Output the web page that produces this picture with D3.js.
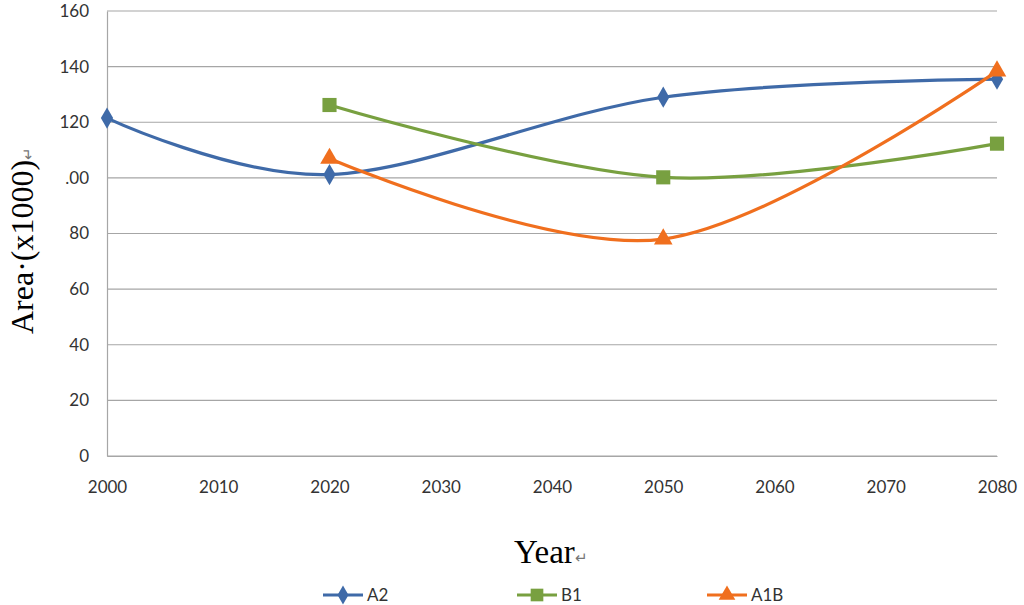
<!DOCTYPE html>
<html>
<head>
<meta charset="utf-8">
<script src="https://cdn.jsdelivr.net/npm/d3@7"></script>
<style>
  body { margin: 0; background: #fff; }
</style>
</head>
<body>
<div id="chart"></div>
<script>
// data
var years = [2000, 2020, 2050, 2080];
var a2 = [121.5, 101.2, 129, 135.5];
var b1 = [null, 126.2, 100.2, 112.3];
var a1b = [null, 107, 78, 138.4];
var seriesNames = ["A2", "B1", "A1B"];
var xTicks = [2000, 2010, 2020, 2030, 2040, 2050, 2060, 2070, 2080];
var yTicks = [0, 20, 40, 60, 80, 100, 120, 140, 160];
var yTickLabels = ["0", "20", "40", "60", "80", ".00", "120", "140", "160"];

var W = 1024, H = 605;
var margin = {top: 11, right: 27, bottom: 149, left: 107},
    width = W - margin.left - margin.right,
    height = H - margin.top - margin.bottom;

var svg = d3.select("#chart")
    .append("svg")
    .attr("width", W)
    .attr("height", H);

var g = svg.append("g")
    .attr("transform", "translate(" + margin.left + "," + margin.top + ")");

var x = d3.scaleLinear().domain([2000, 2080]).range([0, width]);
var y = d3.scaleLinear().domain([0, 160]).range([height, 0]);

// horizontal gridlines
g.append("g")
    .selectAll("line")
    .data(yTicks)
    .enter()
    .append("line")
    .attr("x1", 0)
    .attr("x2", width)
    .attr("y1", function (d) { return y(d); })
    .attr("y2", function (d) { return y(d); })
    .attr("stroke", "#a6a6a6")
    .attr("stroke-width", 1.2);

// left axis
var yAxis = g.append("g")
    .call(d3.axisLeft(y)
        .tickValues(yTicks)
        .tickSize(0)
        .tickPadding(18)
        .tickFormat(function (d, i) { return yTickLabels[i]; }));
yAxis.select(".domain").attr("stroke", "#a6a6a6").attr("stroke-width", 1.2);

// bottom axis
var xAxis = g.append("g")
    .attr("transform", "translate(0," + height + ")")
    .call(d3.axisBottom(x)
        .tickValues(xTicks)
        .tickSize(0)
        .tickPadding(25)
        .tickFormat(d3.format("d")));
xAxis.select(".domain").attr("stroke", "#a6a6a6").attr("stroke-width", 1.2);

svg.selectAll(".tick text")
    .style("font-family", "Lato, 'Open Sans', sans-serif")
    .style("font-size", "17px")
    .attr("fill", "#333");

// series
var colors = ["#3f6aa8", "#78a040", "#f06f1e"];
var symbols = [d3.symbolDiamond, d3.symbolSquare, d3.symbolTriangle];
var symSizes = [130, 200, 150];
var allSeries = [a2, b1, a1b];

var line = d3.line()
    .defined(function (d) { return d[1] != null; })
    .x(function (d) { return x(d[0]); })
    .y(function (d) { return y(d[1]); })
    .curve(d3.curveCardinal.tension(0));

allSeries.forEach(function (vals, i) {
    var pts = years.map(function (yr, j) { return [yr, vals[j]]; })
        .filter(function (d) { return d[1] != null; });

    g.append("path")
        .datum(pts)
        .attr("fill", "none")
        .attr("stroke", colors[i])
        .attr("stroke-width", 3.2)
        .attr("d", line);

    g.selectAll(".m" + i)
        .data(pts)
        .enter()
        .append("path")
        .attr("class", "m" + i)
        .attr("transform", function (d) {
            return "translate(" + x(d[0]) + "," + y(d[1]) + ")";
        })
        .attr("d", d3.symbol().type(symbols[i]).size(symSizes[i]))
        .attr("fill", colors[i]);
});

// axis titles
var yTitle = svg.append("text")
    .attr("transform", "translate(33,334) rotate(-90)")
    .attr("text-anchor", "start")
    .style("font-family", "'Liberation Serif', 'Times New Roman', serif")
    .style("font-size", "32px")
    .attr("fill", "#000");
yTitle.append("tspan").text("Area\u00b7(x1000)");
yTitle.append("tspan").text("\u21b5")
    .style("font-size", "15px")
    .attr("fill", "#777");

var xTitle = svg.append("text")
    .attr("x", 514)
    .attr("y", 563)
    .attr("text-anchor", "start")
    .style("font-family", "'Liberation Serif', 'Times New Roman', serif")
    .style("font-size", "33px")
    .attr("fill", "#000");
xTitle.append("tspan").text("Year");
xTitle.append("tspan").text("\u21b5")
    .style("font-size", "15px")
    .attr("fill", "#777");

// legend
var legendX = [323, 517, 707];
var legend = svg.append("g")
    .attr("transform", "translate(0,595)");

seriesNames.forEach(function (name, i) {
    var lg = legend.append("g")
        .attr("transform", "translate(" + legendX[i] + ",0)");
    lg.append("line")
        .attr("x1", 0).attr("x2", 40)
        .attr("stroke", colors[i])
        .attr("stroke-width", 3.2);
    lg.append("path")
        .attr("transform", "translate(20,0)")
        .attr("d", d3.symbol().type(symbols[i]).size(symSizes[i] * 0.8))
        .attr("fill", colors[i]);
    lg.append("text")
        .attr("x", 44)
        .attr("dy", "0.35em")
        .style("font-family", "Lato, 'Open Sans', sans-serif")
        .style("font-size", "17px")
        .attr("fill", "#333")
        .text(name);
});
</script>
</body>
</html>
